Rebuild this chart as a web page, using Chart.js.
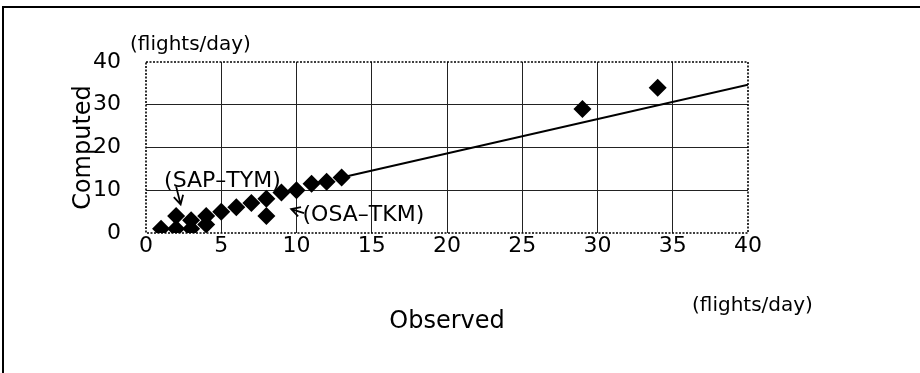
<!DOCTYPE html>
<html>
<head>
<meta charset="utf-8">
<script src="https://cdn.jsdelivr.net/npm/chart.js@4/dist/chart.umd.min.js"></script>
<style>
  body { margin: 0; background: #fff; }
  #wrap { width: 920px; height: 373px; }
</style>
</head>
<body>
<div id="wrap"><canvas id="myChart" width="920" height="373"></canvas></div>
<script>
// observed vs computed flights per day
const observed = [1, 2, 2, 3, 3, 4, 4, 5, 6, 7, 8, 8, 9, 10, 11, 12, 13, 29, 34];
const computed = [1, 1, 4, 1, 3, 2, 4, 5, 6, 7, 8, 4, 9.5, 10, 11.5, 12, 13, 29, 34];

// fitted line end points
const fitX = [13, 40];
const fitY = [13, 34.7];

const xTicks = [0, 5, 10, 15, 20, 25, 30, 35, 40];
const yTicks = [0, 10, 20, 30, 40];

// labelled pairs: text anchor and arrow (tail -> tip), in data units
const notes = [
    { text: '(SAP–TYM)', at: [1.2, 12.1], tail: [2.0, 10.9], tip: [2.3, 6.7] },
    { text: '(OSA–TKM)', at: [10.4, 4.2], tail: [10.5, 4.65], tip: [9.65, 5.6] }
];

const unitLabel = '(flights/day)';
const FONT = 'DejaVu Sans';

const points = observed.map((x, i) => ({ x: x, y: computed[i] }));
const fitLine = fitX.map((x, i) => ({ x: x, y: fitY[i] }));

// white page, outer frame, dotted plot border, notes and unit labels
const decor = {
    id: 'decor',
    beforeDraw(chart) {
        const c = chart.ctx;
        c.save();
        c.fillStyle = '#fff';
        c.fillRect(0, 0, chart.width, chart.height);
        c.restore();
    },
    afterDatasetsDraw(chart) {
        const c = chart.ctx;
        const a = chart.chartArea;
        const sx = chart.scales.x, sy = chart.scales.y;
        c.save();

        // plot border, dotted
        c.strokeStyle = '#000';
        c.lineWidth = 1.6;
        c.setLineDash([2, 1.5]);
        c.strokeRect(a.left, a.top, a.right - a.left, a.bottom - a.top);
        c.setLineDash([]);

        // outer frame (top and left only)
        c.lineWidth = 2;
        c.beginPath();
        c.moveTo(chart.width, 7);
        c.lineTo(3, 7);
        c.lineTo(3, chart.height);
        c.stroke();

        // notes
        c.fillStyle = '#000';
        c.font = '22px "' + FONT + '"';
        c.textBaseline = 'middle';
        c.textAlign = 'left';
        c.lineWidth = 1.8;
        notes.forEach(n => {
            c.fillText(n.text, sx.getPixelForValue(n.at[0]), sy.getPixelForValue(n.at[1]));
            const x0 = sx.getPixelForValue(n.tail[0]), y0 = sy.getPixelForValue(n.tail[1]);
            const x1 = sx.getPixelForValue(n.tip[0]), y1 = sy.getPixelForValue(n.tip[1]);
            const ang = Math.atan2(y1 - y0, x1 - x0);
            c.beginPath();
            c.moveTo(x0, y0);
            c.lineTo(x1, y1);
            c.moveTo(x1 - 10 * Math.cos(ang - 0.5), y1 - 10 * Math.sin(ang - 0.5));
            c.lineTo(x1, y1);
            c.lineTo(x1 - 10 * Math.cos(ang + 0.5), y1 - 10 * Math.sin(ang + 0.5));
            c.stroke();
        });

        // units
        c.font = '20px "' + FONT + '"';
        c.fillText(unitLabel, 130, 45);
        c.fillText(unitLabel, 692, 306);
        c.restore();
    }
};

const ctx = document.getElementById('myChart').getContext('2d');

new Chart(ctx, {
    type: 'scatter',
    data: {
        datasets: [{
            label: 'Observed vs computed',
            data: points,
            pointStyle: 'rectRot',
            pointRadius: 9,
            backgroundColor: '#000',
            borderColor: '#000',
            borderWidth: 0
        }, {
            label: 'Fit',
            data: fitLine,
            showLine: true,
            pointRadius: 0,
            borderColor: '#000',
            borderWidth: 2
        }]
    },
    options: {
        responsive: false,
        animation: false,
        layout: { padding: { left: 0, top: 62, right: 172, bottom: 0 } },
        plugins: {
            legend: { display: false },
            tooltip: { enabled: false }
        },
        scales: {
            x: {
                type: 'linear',
                min: 0,
                max: 40,
                afterFit(scale) { scale.height = 140; },
                afterBuildTicks(scale) { scale.ticks = xTicks.map(v => ({ value: v })); },
                border: { display: false },
                grid: {
                    drawTicks: false,
                    color: c => (c.tick && (c.tick.value === 0 || c.tick.value === 40)) ? 'rgba(0,0,0,0)' : '#222',
                    lineWidth: 1
                },
                ticks: { color: '#000', padding: 0, maxRotation: 0, font: { family: FONT, size: 22 } },
                title: {
                    display: true,
                    text: 'Observed',
                    color: '#000',
                    font: { family: FONT, size: 24 },
                    padding: { top: 0, bottom: 37 }
                }
            },
            y: {
                type: 'linear',
                min: 0,
                max: 40,
                afterFit(scale) { scale.width = 146; },
                afterBuildTicks(scale) { scale.ticks = yTicks.map(v => ({ value: v })); },
                border: { display: false },
                grid: {
                    drawTicks: false,
                    color: c => (c.tick && (c.tick.value === 0 || c.tick.value === 40)) ? 'rgba(0,0,0,0)' : '#222',
                    lineWidth: 1
                },
                ticks: { color: '#000', padding: 25, font: { family: FONT, size: 22 } },
                title: {
                    display: true,
                    text: 'Computed',
                    color: '#000',
                    font: { family: FONT, size: 24 },
                    padding: { top: 69, bottom: 0 }
                }
            }
        }
    },
    plugins: [decor]
});
</script>
</body>
</html>
